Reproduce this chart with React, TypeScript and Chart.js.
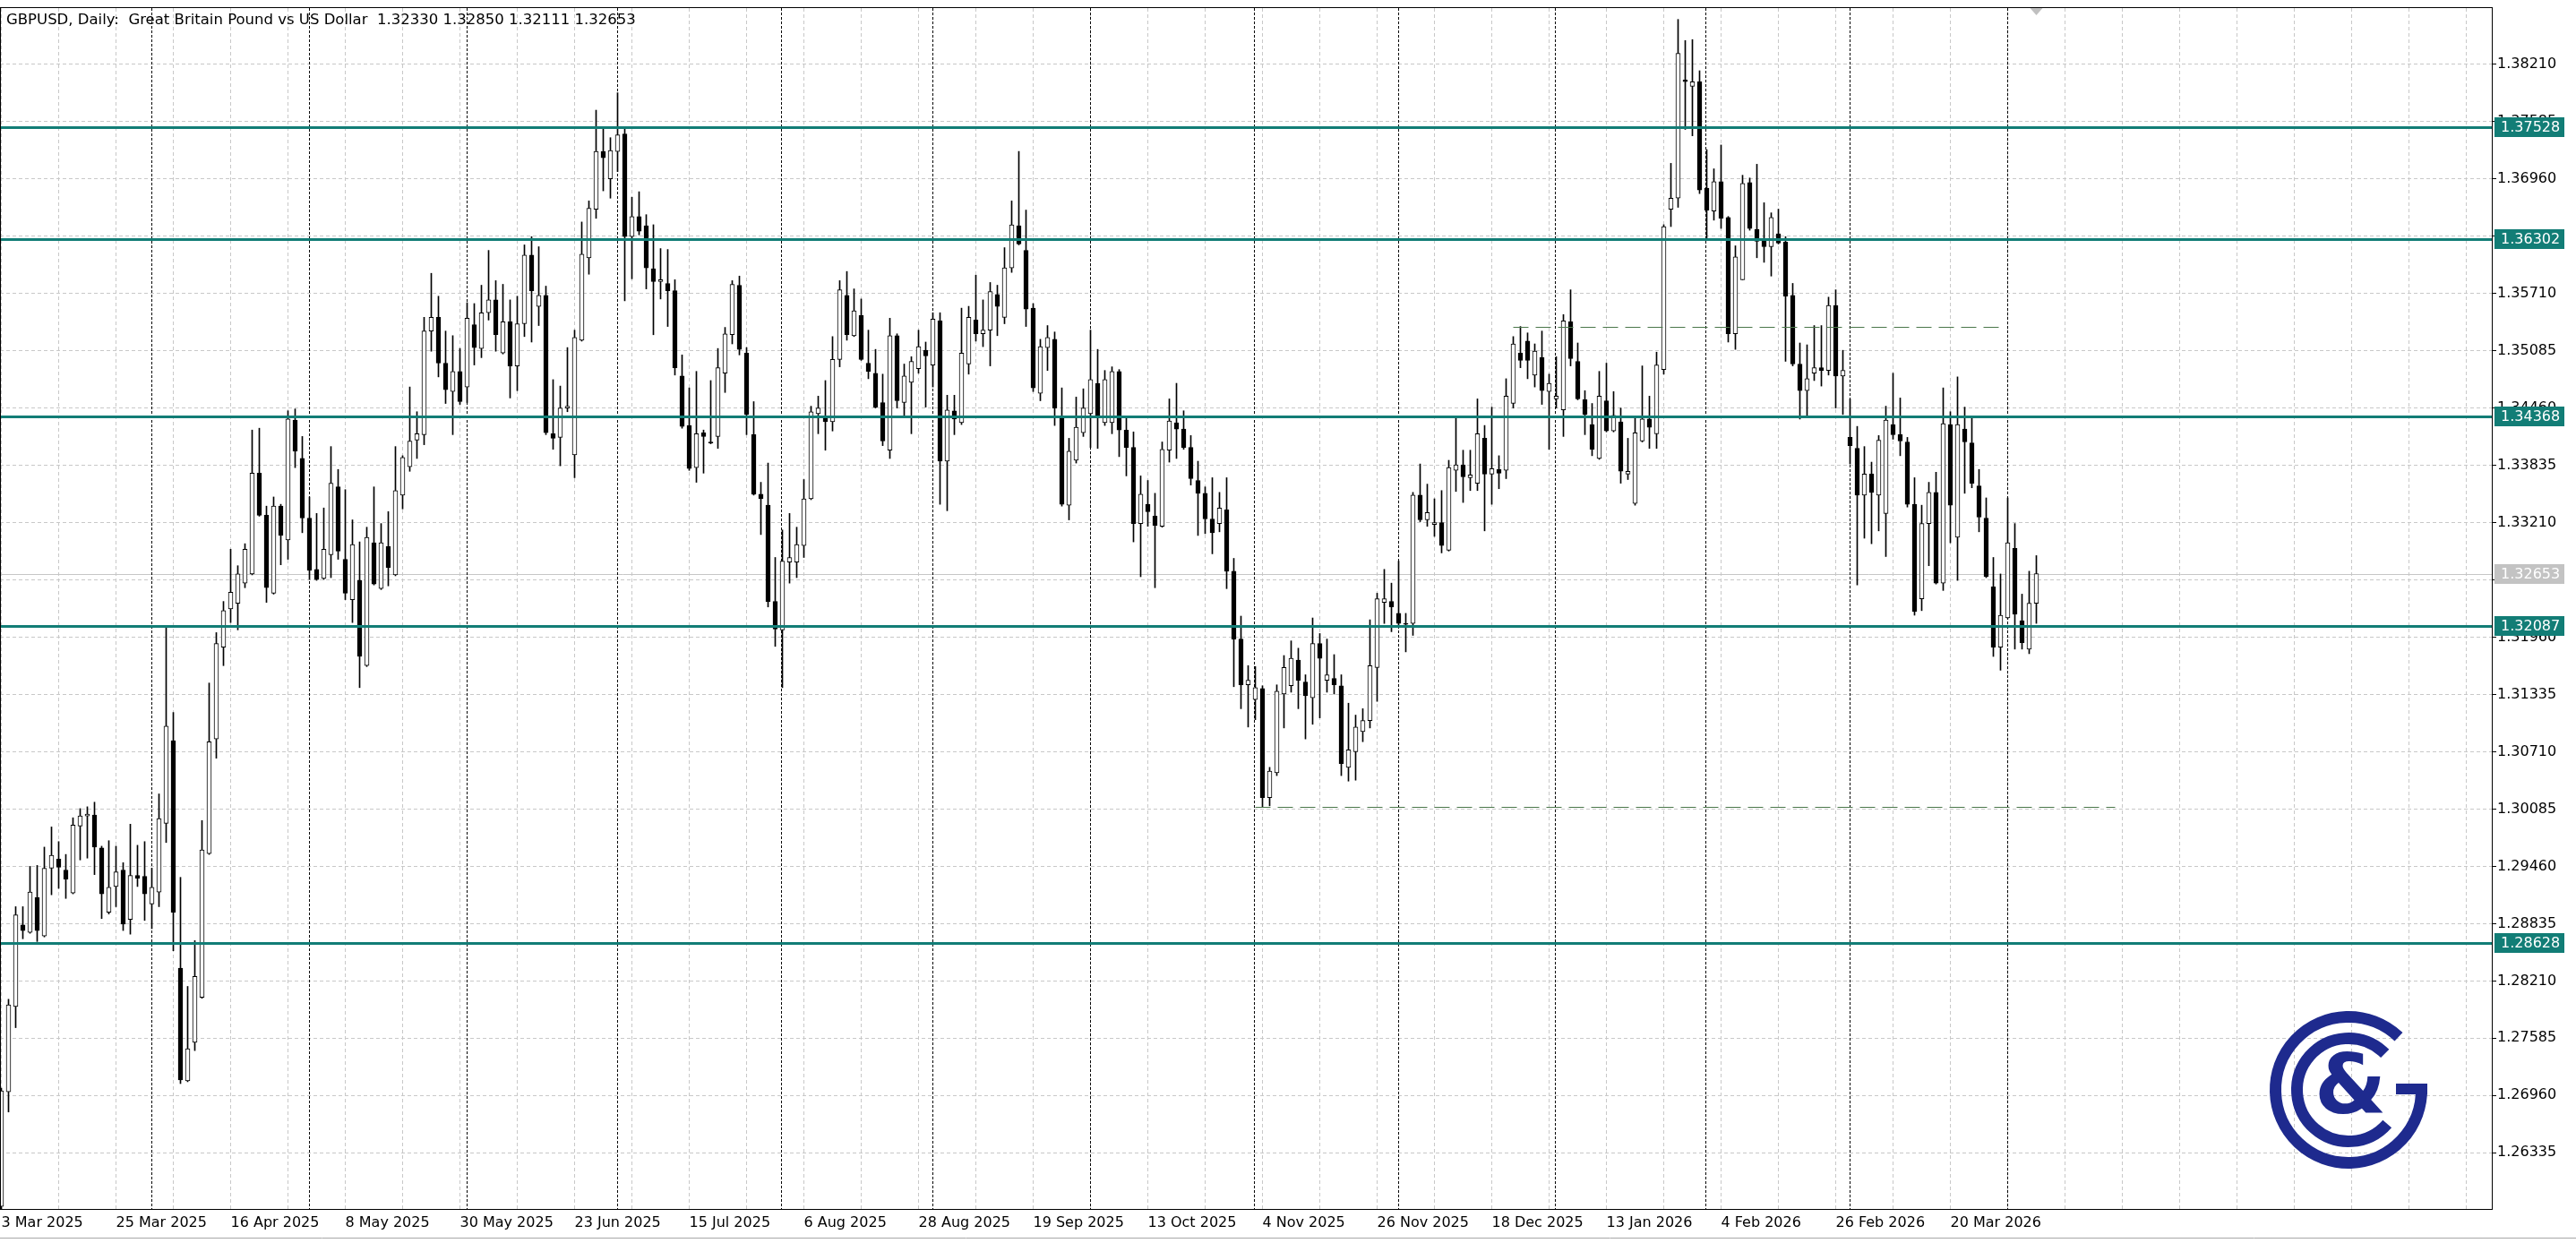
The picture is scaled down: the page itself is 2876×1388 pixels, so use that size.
import React, { useEffect, useRef } from "react";
import { Chart, registerables } from "chart.js";

Chart.register(...registerables);

const SYMBOL = "GBPUSD";
const PERIOD = "Daily";
const DESCRIPTION = "Great Britain Pound vs US Dollar";

const OPEN = [
  1.2575, 1.2700, 1.2793, 1.2882, 1.2874, 1.2912, 1.2870, 1.2944, 1.2954, 1.2942,
  1.2917, 1.2990, 1.3001, 1.3002, 1.2966, 1.2896, 1.2924, 1.2942, 1.2888, 1.2936,
  1.2935, 1.2905, 1.2918, 1.2993, 1.3083, 1.2835, 1.2712, 1.2754, 1.2803, 1.2960,
  1.3085, 1.3185, 1.3227, 1.3233, 1.3255, 1.3265, 1.3375, 1.3329, 1.3244, 1.3339,
  1.3302, 1.3433, 1.3391, 1.3326, 1.3270, 1.3260, 1.3286, 1.3360, 1.3281, 1.3237,
  1.3258, 1.3165, 1.3299, 1.3249, 1.3295, 1.3264, 1.3351, 1.3382, 1.3411, 1.3417,
  1.3530, 1.3545, 1.3495, 1.3464, 1.3486, 1.3469, 1.3537, 1.3511, 1.3550, 1.3564,
  1.3506, 1.3540, 1.3492, 1.3538, 1.3613, 1.3557, 1.3569, 1.3418, 1.3414, 1.3446,
  1.3395, 1.3520, 1.3610, 1.3663, 1.3726, 1.3696, 1.3726, 1.3745, 1.3633, 1.3655,
  1.3645, 1.3598, 1.3584, 1.3582, 1.3574, 1.3481, 1.3427, 1.3381, 1.3419, 1.3409,
  1.3415, 1.3484, 1.3526, 1.3580, 1.3506, 1.3417, 1.3352, 1.3340, 1.3235, 1.3204,
  1.3278, 1.3278, 1.3296, 1.3347, 1.3440, 1.3436, 1.3431, 1.3499, 1.3569, 1.3525,
  1.3547, 1.3495, 1.3484, 1.3452, 1.3400, 1.3525, 1.3452, 1.3474, 1.3489, 1.3509,
  1.3493, 1.3541, 1.3388, 1.3443, 1.3430, 1.3494, 1.3542, 1.3527, 1.3531, 1.3570,
  1.3545, 1.3599, 1.3645, 1.3618, 1.3555, 1.3462, 1.3512, 1.3521, 1.3437, 1.3340,
  1.3389, 1.3419, 1.3440, 1.3473, 1.3430, 1.3430, 1.3486, 1.3422, 1.3403, 1.3320,
  1.3341, 1.3328, 1.3317, 1.3400, 1.3430, 1.3423, 1.3403, 1.3367, 1.3353, 1.3325,
  1.3320, 1.3335, 1.3268, 1.3194, 1.3144, 1.3128, 1.3140, 1.3021, 1.3048, 1.3134,
  1.3143, 1.3171, 1.3147, 1.3130, 1.3189, 1.3149, 1.3151, 1.3143, 1.3054, 1.3071,
  1.3093, 1.3105, 1.3163, 1.3234, 1.3235, 1.3222, 1.3211, 1.3211, 1.3351, 1.3324,
  1.3319, 1.3321, 1.3291, 1.3378, 1.3384, 1.3370, 1.3364, 1.3413, 1.3374, 1.3379,
  1.3378, 1.3451, 1.3506, 1.3519, 1.3482, 1.3501, 1.3464, 1.3456, 1.3444, 1.3540,
  1.3497, 1.3455, 1.3428, 1.3391, 1.3454, 1.3421, 1.3431, 1.3374, 1.3342, 1.3410,
  1.3434, 1.3418, 1.3488, 1.3663, 1.3675, 1.3804, 1.3797, 1.3802, 1.3686, 1.3661,
  1.3693, 1.3654, 1.3527, 1.3586, 1.3692, 1.3641, 1.3629, 1.3622, 1.3636, 1.3627,
  1.3569, 1.3494, 1.3465, 1.3484, 1.3490, 1.3487, 1.3558, 1.3481, 1.3414, 1.3402,
  1.3351, 1.3374, 1.3351, 1.3331, 1.3428, 1.3417, 1.3409, 1.3341, 1.3238, 1.3320,
  1.3354, 1.3255, 1.3428, 1.3305, 1.3423, 1.3408, 1.3361, 1.3326, 1.3251, 1.3185,
  1.3217, 1.3293, 1.3214, 1.3183, 1.32330,
];

const HIGH = [
  1.2704, 1.2801, 1.2902, 1.2902, 1.2946, 1.2947, 1.2967, 1.2989, 1.2973, 1.2959,
  1.2999, 1.3009, 1.3011, 1.3016, 1.2968, 1.2974, 1.2968, 1.2950, 1.2992, 1.2969,
  1.2973, 1.2944, 1.3025, 1.3207, 1.3114, 1.2934, 1.2815, 1.2865, 1.2996, 1.3146,
  1.3201, 1.3235, 1.3292, 1.3274, 1.3298, 1.3422, 1.3424, 1.3339, 1.3349, 1.3341,
  1.3443, 1.3445, 1.3415, 1.3349, 1.3331, 1.3337, 1.3404, 1.3379, 1.3357, 1.3324,
  1.3300, 1.3316, 1.3360, 1.3320, 1.3333, 1.3404, 1.3394, 1.3469, 1.3442, 1.3545,
  1.3593, 1.3568, 1.3530, 1.3525, 1.3511, 1.3561, 1.3560, 1.3580, 1.3618, 1.3585,
  1.3581, 1.3564, 1.3568, 1.3624, 1.3633, 1.3622, 1.3579, 1.3477, 1.3470, 1.3512,
  1.3531, 1.3649, 1.3672, 1.3771, 1.3751, 1.3741, 1.3790, 1.3751, 1.3676, 1.3682,
  1.3657, 1.3646, 1.3620, 1.3619, 1.3586, 1.3504, 1.3468, 1.3486, 1.3422, 1.3476,
  1.3511, 1.3534, 1.3585, 1.3590, 1.3512, 1.3453, 1.3365, 1.3386, 1.3283, 1.3313,
  1.3331, 1.3316, 1.3368, 1.3448, 1.3459, 1.3476, 1.3524, 1.3585, 1.3595, 1.3576,
  1.3565, 1.3531, 1.3510, 1.3483, 1.3544, 1.3527, 1.3494, 1.3502, 1.3531, 1.3518,
  1.3550, 1.3550, 1.3460, 1.3460, 1.3555, 1.3557, 1.3591, 1.3564, 1.3583, 1.3580,
  1.3621, 1.3672, 1.3726, 1.3662, 1.3560, 1.3521, 1.3536, 1.3529, 1.3468, 1.3413,
  1.3458, 1.3467, 1.3531, 1.3510, 1.3487, 1.3491, 1.3488, 1.3437, 1.3420, 1.3372,
  1.3367, 1.3353, 1.3409, 1.3456, 1.3473, 1.3443, 1.3416, 1.3388, 1.3360, 1.3370,
  1.3354, 1.3370, 1.3282, 1.3219, 1.3165, 1.3164, 1.3143, 1.3054, 1.3144, 1.3176,
  1.3192, 1.3184, 1.3155, 1.3217, 1.3200, 1.3194, 1.3177, 1.3155, 1.3124, 1.3111,
  1.3118, 1.3215, 1.3244, 1.3270, 1.3255, 1.3279, 1.3222, 1.3354, 1.3385, 1.3363,
  1.3347, 1.3356, 1.3389, 1.3436, 1.3400, 1.3400, 1.3456, 1.3427, 1.3447, 1.3394,
  1.3478, 1.3524, 1.3535, 1.3528, 1.3516, 1.3530, 1.3483, 1.3502, 1.3548, 1.3575,
  1.3517, 1.3465, 1.3451, 1.3486, 1.3495, 1.3464, 1.3446, 1.3413, 1.3437, 1.3492,
  1.3459, 1.3507, 1.3646, 1.3713, 1.3870, 1.3847, 1.3848, 1.3814, 1.3728, 1.3707,
  1.3733, 1.3655, 1.3623, 1.3700, 1.3697, 1.3712, 1.3670, 1.3659, 1.3663, 1.3633,
  1.3582, 1.3517, 1.3515, 1.3536, 1.3536, 1.3567, 1.3575, 1.3509, 1.3456, 1.3426,
  1.3404, 1.3387, 1.3416, 1.3448, 1.3484, 1.3457, 1.3414, 1.3370, 1.3340, 1.3365,
  1.3376, 1.3468, 1.3442, 1.3480, 1.3447, 1.3436, 1.3379, 1.3348, 1.3283, 1.3265,
  1.3348, 1.3320, 1.3243, 1.3268, 1.32850,
];

const LOW = [
  1.2560, 1.2678, 1.2770, 1.2867, 1.2873, 1.2864, 1.2869, 1.2915, 1.2922, 1.2911,
  1.2916, 1.2953, 1.2955, 1.2937, 1.2889, 1.2894, 1.2902, 1.2876, 1.2872, 1.2924,
  1.2887, 1.2878, 1.2902, 1.2972, 1.2854, 1.2709, 1.2711, 1.2745, 1.2802, 1.2959,
  1.3064, 1.3165, 1.3212, 1.3204, 1.3250, 1.3264, 1.3328, 1.3234, 1.3243, 1.3275,
  1.3281, 1.3381, 1.3310, 1.3259, 1.3258, 1.3259, 1.3261, 1.3281, 1.3237, 1.3212,
  1.3141, 1.3164, 1.3253, 1.3248, 1.3252, 1.3263, 1.3336, 1.3377, 1.3391, 1.3406,
  1.3508, 1.3480, 1.3451, 1.3417, 1.3450, 1.3452, 1.3493, 1.3501, 1.3542, 1.3508,
  1.3505, 1.3457, 1.3465, 1.3524, 1.3518, 1.3536, 1.3417, 1.3401, 1.3383, 1.3442,
  1.3370, 1.3519, 1.3592, 1.3653, 1.3683, 1.3675, 1.3704, 1.3563, 1.3587, 1.3635,
  1.3576, 1.3526, 1.3565, 1.3535, 1.3482, 1.3424, 1.3378, 1.3365, 1.3375, 1.3407,
  1.3402, 1.3463, 1.3516, 1.3504, 1.3417, 1.3351, 1.3308, 1.3229, 1.3186, 1.3141,
  1.3255, 1.3261, 1.3283, 1.3346, 1.3418, 1.3400, 1.3421, 1.3491, 1.3520, 1.3524,
  1.3498, 1.3478, 1.3446, 1.3405, 1.3391, 1.3446, 1.3436, 1.3418, 1.3484, 1.3447,
  1.3469, 1.3341, 1.3334, 1.3417, 1.3428, 1.3483, 1.3519, 1.3513, 1.3492, 1.3525,
  1.3538, 1.3594, 1.3624, 1.3535, 1.3464, 1.3454, 1.3487, 1.3427, 1.3339, 1.3324,
  1.3386, 1.3415, 1.3403, 1.3402, 1.3427, 1.3418, 1.3393, 1.3372, 1.3300, 1.3262,
  1.3317, 1.3250, 1.3316, 1.3387, 1.3391, 1.3401, 1.3362, 1.3307, 1.3309, 1.3287,
  1.3311, 1.3249, 1.3142, 1.3118, 1.3098, 1.3106, 1.3011, 1.3012, 1.3045, 1.3097,
  1.3136, 1.3118, 1.3085, 1.3101, 1.3108, 1.3136, 1.3134, 1.3045, 1.3039, 1.3040,
  1.3082, 1.3097, 1.3126, 1.3211, 1.3202, 1.3209, 1.3180, 1.3198, 1.3322, 1.3317,
  1.3306, 1.3288, 1.3290, 1.3355, 1.3343, 1.3356, 1.3356, 1.3312, 1.3341, 1.3358,
  1.3369, 1.3446, 1.3490, 1.3478, 1.3469, 1.3450, 1.3401, 1.3446, 1.3415, 1.3492,
  1.3455, 1.3417, 1.3394, 1.3390, 1.3420, 1.3420, 1.3364, 1.3368, 1.3340, 1.3409,
  1.3402, 1.3402, 1.3483, 1.3644, 1.3665, 1.3750, 1.3743, 1.3680, 1.3629, 1.3651,
  1.3642, 1.3518, 1.3510, 1.3586, 1.3640, 1.3610, 1.3605, 1.3590, 1.3625, 1.3497,
  1.3492, 1.3434, 1.3437, 1.3476, 1.3470, 1.3482, 1.3446, 1.3439, 1.3385, 1.3253,
  1.3304, 1.3298, 1.3312, 1.3284, 1.3412, 1.3394, 1.3338, 1.3220, 1.3225, 1.3274,
  1.3254, 1.3247, 1.3299, 1.3258, 1.3353, 1.3359, 1.3311, 1.3261, 1.3175, 1.3160,
  1.3216, 1.3183, 1.3183, 1.3178, 1.32111,
];

const CLOSE = [
  1.2701, 1.2795, 1.2893, 1.2876, 1.2918, 1.2876, 1.2944, 1.2958, 1.2945, 1.2932,
  1.2991, 1.3001, 1.3003, 1.2967, 1.2916, 1.2923, 1.2940, 1.2883, 1.2936, 1.2933,
  1.2916, 1.2923, 1.2998, 1.3099, 1.2896, 1.2713, 1.2747, 1.2826, 1.2964, 1.3082,
  1.3189, 1.3225, 1.3245, 1.3265, 1.3292, 1.3375, 1.3329, 1.3250, 1.3339, 1.3307,
  1.3434, 1.3399, 1.3326, 1.3269, 1.3259, 1.3292, 1.3364, 1.3290, 1.3244, 1.3297,
  1.3175, 1.3305, 1.3254, 1.3299, 1.3272, 1.3356, 1.3392, 1.3410, 1.3418, 1.3530,
  1.3545, 1.3495, 1.3466, 1.3486, 1.3453, 1.3544, 1.3512, 1.3550, 1.3564, 1.3526,
  1.3540, 1.3492, 1.3538, 1.3613, 1.3574, 1.3569, 1.3419, 1.3413, 1.3446, 1.3448,
  1.3523, 1.3614, 1.3664, 1.3726, 1.3719, 1.3727, 1.3744, 1.3633, 1.3655, 1.3639,
  1.3599, 1.3584, 1.3586, 1.3574, 1.3490, 1.3426, 1.3380, 1.3418, 1.3415, 1.3408,
  1.3490, 1.3527, 1.3581, 1.3510, 1.3439, 1.3352, 1.3347, 1.3235, 1.3205, 1.3279,
  1.3283, 1.3297, 1.3347, 1.3442, 1.3446, 1.3431, 1.3499, 1.3575, 1.3526, 1.3552,
  1.3499, 1.3486, 1.3447, 1.3410, 1.3525, 1.3454, 1.3481, 1.3497, 1.3513, 1.3503,
  1.3543, 1.3388, 1.3444, 1.3434, 1.3506, 1.3545, 1.3527, 1.3531, 1.3573, 1.3557,
  1.3599, 1.3646, 1.3625, 1.3554, 1.3468, 1.3513, 1.3523, 1.3446, 1.3341, 1.3399,
  1.3425, 1.3446, 1.3477, 1.3438, 1.3477, 1.3486, 1.3422, 1.3403, 1.3320, 1.3352,
  1.3333, 1.3318, 1.3401, 1.3432, 1.3423, 1.3403, 1.3369, 1.3353, 1.3325, 1.3310,
  1.3337, 1.3268, 1.3194, 1.3144, 1.3149, 1.3141, 1.3021, 1.3050, 1.3137, 1.3163,
  1.3173, 1.3149, 1.3132, 1.3189, 1.3173, 1.3155, 1.3144, 1.3058, 1.3073, 1.3098,
  1.3105, 1.3165, 1.3238, 1.3238, 1.3229, 1.3211, 1.3210, 1.3351, 1.3324, 1.3332,
  1.3321, 1.3296, 1.3381, 1.3384, 1.3371, 1.3373, 1.3418, 1.3374, 1.3380, 1.3375,
  1.3459, 1.3516, 1.3498, 1.3498, 1.3508, 1.3465, 1.3473, 1.3459, 1.3541, 1.3500,
  1.3456, 1.3439, 1.3401, 1.3459, 1.3421, 1.3438, 1.3377, 1.3377, 1.3419, 1.3434,
  1.3425, 1.3493, 1.3644, 1.3675, 1.3833, 1.3802, 1.3802, 1.3684, 1.3662, 1.3693,
  1.3653, 1.3527, 1.3611, 1.3691, 1.3642, 1.3628, 1.3622, 1.3654, 1.3626, 1.3568,
  1.3494, 1.3465, 1.3478, 1.3490, 1.3487, 1.3558, 1.3481, 1.3487, 1.3405, 1.3351,
  1.3374, 1.3354, 1.3411, 1.3433, 1.3417, 1.3410, 1.3341, 1.3224, 1.3320, 1.3354,
  1.3255, 1.3429, 1.3340, 1.3428, 1.3409, 1.3364, 1.3327, 1.3262, 1.3185, 1.3220,
  1.3299, 1.3221, 1.3190, 1.3233, 1.32653,
];

const DATE_LABELS = [
  "3 Mar 2025", "25 Mar 2025", "16 Apr 2025", "8 May 2025", "30 May 2025", "23 Jun 2025",
  "15 Jul 2025", "6 Aug 2025", "28 Aug 2025", "19 Sep 2025", "13 Oct 2025", "4 Nov 2025",
  "26 Nov 2025", "18 Dec 2025", "13 Jan 2026", "4 Feb 2026", "26 Feb 2026", "20 Mar 2026",
];
const LABEL_STEP = 16;
const GRID_STEP = 8;

const Y_TICKS = [
  1.26335, 1.2696, 1.27585, 1.2821, 1.28835, 1.2946, 1.30085, 1.3071, 1.31335, 1.3196,
  1.32585, 1.3321, 1.33835, 1.3446, 1.35085, 1.3571, 1.36335, 1.3696, 1.37585, 1.3821,
];

const LEVELS = [1.37528, 1.36302, 1.34368, 1.32087, 1.28628];
const DASH_PRICES = [1.3535, 1.3011];
const DASH_FROM = [211, 175];
const DASH_TO = [279, 295];
const MONTH_STARTS = [21, 43, 65, 86, 109, 130, 152, 175, 195, 217, 238, 258, 280];

const X_MIN = -0.1875;
const X_MAX = 347.5625;
const Y_MIN = 1.25722;
const Y_MAX = 1.38824;

const FONT = "'DejaVu Sans'";
const TEAL = "#127d76";
const NAVY = "#1e2a8e";

export default function App() {
  const ref = useRef<HTMLCanvasElement>(null);

  useEffect(() => {
    const canvas = ref.current;
    if (!canvas) return;
    const n = OPEN.length;
    const gridValues: number[] = [];
    for (let v = 0; v <= X_MAX; v += GRID_STEP) gridValues.push(v);

    const overlay = {
      id: "mt4overlay",
      beforeDraw(chart: any) {
        const ctx = chart.ctx;
        ctx.save();
        ctx.fillStyle = "#ffffff";
        ctx.fillRect(0, 0, chart.width, chart.height);
        ctx.restore();
      },
      beforeDatasetsDraw(chart: any) {
        const { ctx, chartArea: ca, scales } = chart;
        const xs = scales.x;
        const ys = scales.y;
        ctx.save();
        const yp = Math.round(ys.getPixelForValue(CLOSE[n - 1])) + 0.5;
        ctx.strokeStyle = "#c6c6c6";
        ctx.lineWidth = 1;
        ctx.beginPath();
        ctx.moveTo(ca.left, yp);
        ctx.lineTo(ca.right, yp);
        ctx.stroke();
        ctx.strokeStyle = "#000000";
        ctx.setLineDash([3, 2]);
        for (const b of MONTH_STARTS) {
          const x = Math.round(xs.getPixelForValue(b)) - 0.5;
          ctx.beginPath();
          ctx.moveTo(x, ca.top);
          ctx.lineTo(x, ca.bottom);
          ctx.stroke();
        }
        ctx.restore();
      },
      afterDatasetsDraw(chart: any) {
        const { ctx, chartArea: ca, scales } = chart;
        const xs = scales.x;
        const ys = scales.y;
        ctx.save();
        ctx.strokeStyle = TEAL;
        ctx.lineWidth = 3;
        for (const p of LEVELS) {
          const y = Math.round(ys.getPixelForValue(p)) + 0.5;
          ctx.beginPath();
          ctx.moveTo(ca.left, y);
          ctx.lineTo(ca.right, y);
          ctx.stroke();
        }
        ctx.strokeStyle = "#4a774a";
        ctx.lineWidth = 1;
        ctx.setLineDash([17, 8]);
        DASH_PRICES.forEach((p, i) => {
          const y = Math.round(ys.getPixelForValue(p)) + 0.5;
          ctx.beginPath();
          ctx.moveTo(xs.getPixelForValue(DASH_FROM[i]), y);
          ctx.lineTo(xs.getPixelForValue(DASH_TO[i]), y);
          ctx.stroke();
        });
        ctx.restore();
      },
      afterDraw(chart: any) {
        const { ctx, chartArea: ca, scales } = chart;
        const xs = scales.x;
        const ys = scales.y;
        ctx.save();
        ctx.strokeStyle = "#000000";
        ctx.lineWidth = 1;
        ctx.strokeRect(ca.left + 0.5, ca.top - 0.5, ca.right - ca.left, ca.bottom - ca.top + 1);
        ctx.strokeStyle = "#a8a8a8";
        ctx.beginPath();
        ctx.moveTo(0, 1382.5);
        ctx.lineTo(chart.width, 1382.5);
        ctx.stroke();
        const badge = (price: number, bg: string) => {
          const y = ys.getPixelForValue(price);
          ctx.fillStyle = bg;
          ctx.fillRect(ca.right + 3, Math.round(y - 11), 78, 22);
          ctx.fillStyle = "#ffffff";
          ctx.font = `16px ${FONT}`;
          ctx.textAlign = "left";
          ctx.textBaseline = "middle";
          ctx.fillText(price.toFixed(5), ca.right + 10, y + 1);
        };
        badge(CLOSE[n - 1], "#c3c3c3");
        for (const p of LEVELS) badge(p, TEAL);
        ctx.fillStyle = "#000000";
        ctx.font = `16.5px ${FONT}`;
        ctx.textAlign = "left";
        ctx.textBaseline = "middle";
        const title = `${SYMBOL}, ${PERIOD}:  ${DESCRIPTION}  ${OPEN[n - 1].toFixed(5)} ${HIGH[n - 1].toFixed(5)} ${LOW[n - 1].toFixed(5)} ${CLOSE[n - 1].toFixed(5)}`;
        ctx.fillText(title, 7, 23);
        const sx = xs.getPixelForValue(n - 1);
        ctx.fillStyle = "#c0c0c0";
        ctx.beginPath();
        ctx.moveTo(sx - 7, ca.top);
        ctx.lineTo(sx + 7, ca.top);
        ctx.lineTo(sx, ca.top + 8);
        ctx.closePath();
        ctx.fill();
        const cx = 2622;
        const cy = 1217;
        ctx.strokeStyle = NAVY;
        ctx.fillStyle = NAVY;
        ctx.lineWidth = 13;
        ctx.lineCap = "butt";
        ctx.beginPath();
        ctx.arc(cx, cy, 81.5, -0.03, 5.47);
        ctx.stroke();
        ctx.fillRect(cx + 53, cy - 7, 35, 12);
        ctx.beginPath();
        ctx.arc(cx, cy, 57.5, 0.72, 5.5);
        ctx.stroke();
        ctx.font = `bold 92px ${FONT}`;
        ctx.textAlign = "center";
        ctx.textBaseline = "middle";
        ctx.fillText("&", cx + 2, cy + 2);
        ctx.restore();
      },
    };

    const chart = new Chart(canvas, {
      type: "bar",
      data: {
        datasets: [
          {
            label: "wick",
            data: OPEN.map((_, i) => ({ x: i, y: [LOW[i], HIGH[i]] })) as any,
            backgroundColor: "#000000",
            borderWidth: 0,
            barThickness: 1,
            maxBarThickness: 1,
            grouped: false,
            order: 2,
          } as any,
          {
            label: "body",
            data: OPEN.map((o, i) => ({ x: i, y: [o, CLOSE[i]] })) as any,
            backgroundColor: OPEN.map((o, i) => (CLOSE[i] >= o ? "#ffffff" : "#000000")),
            borderColor: "#000000",
            borderWidth: 1,
            borderSkipped: false,
            barThickness: 5,
            maxBarThickness: 5,
            grouped: false,
            order: 1,
          } as any,
        ],
      },
      options: {
        responsive: false,
        maintainAspectRatio: false,
        devicePixelRatio: 1,
        animation: false,
        events: [],
        layout: { padding: { top: 9, left: 0, right: 0, bottom: 0 } },
        plugins: {
          legend: { display: false },
          tooltip: { enabled: false },
          title: { display: false },
        },
        scales: {
          x: {
            type: "linear",
            position: "bottom",
            min: X_MIN,
            max: X_MAX,
            bounds: "data",
            offset: false,
            afterBuildTicks: (scale: any) => {
              scale.ticks = gridValues.map((v) => ({ value: v }));
            },
            afterFit: (scale: any) => {
              scale.height = 38;
            },
            grid: { color: "#c8c8c8", lineWidth: 1, drawTicks: false, offset: false },
            border: { display: false, dash: [4, 3] },
            ticks: {
              autoSkip: false,
              maxRotation: 0,
              minRotation: 0,
              align: "start",
              padding: 1,
              color: "#000000",
              font: { family: FONT, size: 16, lineHeight: 1.9 },
              callback: (value: any) => {
                const v = Number(value);
                return v % LABEL_STEP === 0 && DATE_LABELS[v / LABEL_STEP] ? DATE_LABELS[v / LABEL_STEP] : "";
              },
            },
          } as any,
          y: {
            type: "linear",
            position: "right",
            min: Y_MIN,
            max: Y_MAX,
            bounds: "data",
            afterBuildTicks: (scale: any) => {
              scale.ticks = Y_TICKS.map((v) => ({ value: v }));
            },
            afterFit: (scale: any) => {
              scale.width = 94;
            },
            grid: {
              color: "#c8c8c8",
              lineWidth: 1,
              drawTicks: true,
              tickLength: 5,
              tickColor: "#000000",
              tickWidth: 1,
              tickBorderDash: [],
            },
            border: { display: false, dash: [4, 3] },
            ticks: {
              padding: 1,
              color: "#000000",
              font: { family: FONT, size: 16, lineHeight: 0.8 },
              callback: (value: any) => Number(value).toFixed(5),
            },
          } as any,
        },
      } as any,
      plugins: [overlay],
    });

    return () => {
      chart.destroy();
    };
  }, []);

  return (
    <div style={{ position: "fixed", left: 0, top: 0, width: 2876, height: 1388, background: "#ffffff" }}>
      <canvas ref={ref} width={2876} height={1388} style={{ display: "block", width: 2876, height: 1388 }} />
    </div>
  );
}
